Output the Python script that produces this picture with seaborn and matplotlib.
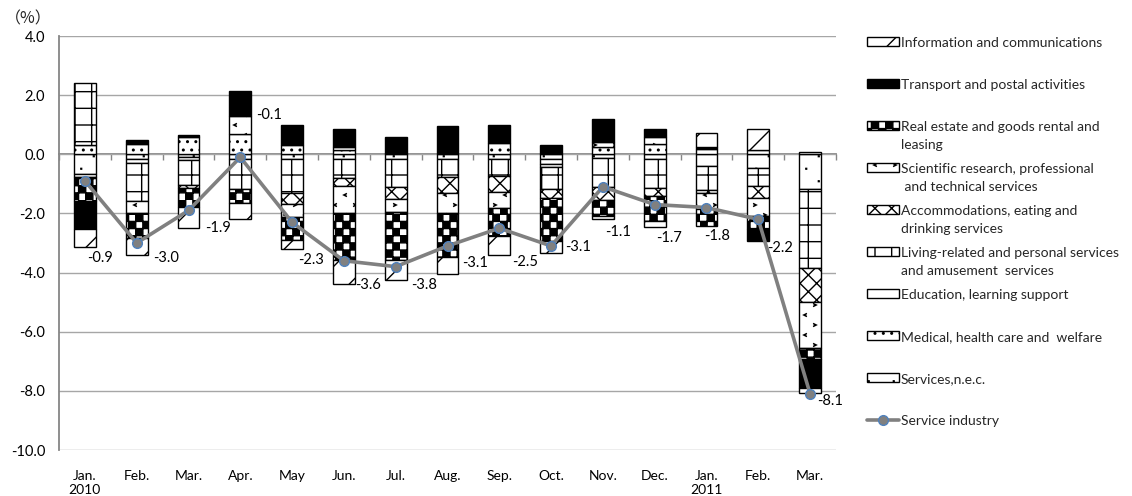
import numpy as np
import pandas as pd
import matplotlib
matplotlib.use("Agg")
import matplotlib.pyplot as plt
import matplotlib.hatch as mhatch
from matplotlib.path import Path
from matplotlib.patches import Patch
from matplotlib.lines import Line2D
import seaborn as sns

# ---------------- data ----------------
months = ["Jan.\n2010", "Feb.", "Mar.", "Apr.", "May", "Jun.", "Jul.", "Aug.",
          "Sep.", "Oct.", "Nov.", "Dec.", "Jan.\n2011", "Feb.", "Mar."]

services_nec   = [-0.65, -0.17, -0.10, -0.17, -0.17, -0.17, -0.17, -0.17, -0.15, -0.15, -0.12, -0.17, -0.40, -0.45, -1.19]
medical        = [0.30, 0.36, 0.57, 0.68, 0.30, 0.15, 0.06, 0.00, 0.38, -0.19, 0.25, 0.35, 0.00, 0.00, 0.09]
education      = [-0.12, -0.14, -0.10, 0.00, 0.00, 0.11, 0.00, 0.00, 0.00, -0.08, 0.00, 0.00, 0.19, 0.15, 0.00]
living         = [2.10, -1.28, -0.85, -1.02, -1.13, -0.62, -0.93, -0.59, -0.60, -0.77, -0.97, -0.97, -0.80, -0.62, -2.66]
accommodations = [0.00, 0.00, -0.10, 0.00, -0.37, -0.28, -0.41, -0.55, -0.52, -0.30, -0.45, -0.28, -0.10, -0.40, -1.13]
scientific     = [0.00, -0.40, 0.00, 0.60, -0.44, -0.90, -0.45, -0.66, -0.54, 0.00, 0.17, 0.22, -0.56, -0.62, -1.58]
real_estate    = [-0.80, -0.85, -0.62, -0.45, -0.80, -1.61, -1.61, -1.50, -0.95, -1.45, -0.55, -0.85, -0.57, -0.45, -0.37]
transport      = [-0.95, 0.11, 0.09, 0.87, 0.68, 0.61, 0.51, 0.97, 0.60, 0.30, 0.78, 0.30, 0.07, -0.40, -0.98]
information    = [-0.62, -0.56, -0.73, -0.54, -0.30, -0.82, -0.68, -0.57, -0.64, -0.40, -0.10, -0.20, 0.45, 0.70, -0.15]
service_industry = [-0.9, -3.0, -1.9, -0.1, -2.3, -3.6, -3.8, -3.1, -2.5, -3.1, -1.1, -1.7, -1.8, -2.2, -8.1]

# ---------------- custom hatch patterns ----------------
class CheckerHatch(mhatch.HatchPatternBase):          # 'O' -> checkerboard
    def __init__(self, hatch, density):
        self.n = 14 if "O" in hatch else 0
        self.num_vertices = (self.n * self.n // 2) * 5

    def set_vertices_and_codes(self, vertices, codes):
        n = self.n
        s = 1.0 / n
        k = 0
        for i in range(n):
            for j in range(n):
                if (i + j) % 2 == 0:
                    x0, y0 = i * s, j * s
                    vertices[k:k + 5] = [(x0, y0), (x0 + s, y0), (x0 + s, y0 + s),
                                         (x0, y0 + s), (x0, y0)]
                    codes[k:k + 5] = [Path.MOVETO, Path.LINETO, Path.LINETO,
                                      Path.LINETO, Path.CLOSEPOLY]
                    k += 5


class SparseDots(mhatch.HatchPatternBase):            # '*' -> sparse tiny dots
    def __init__(self, hatch, density):
        self.n = 8 if "*" in hatch else 0
        self.num_vertices = (self.n * self.n // 2) * 5

    def set_vertices_and_codes(self, vertices, codes):
        n = self.n
        s = 1.0 / n
        a = 0.004
        k = 0
        for i in range(n):
            for j in range(n):
                if (i + j) % 2 == 0:
                    cx, cy = (i + 0.5) * s, (j + 0.5) * s
                    vertices[k:k + 5] = [(cx - a, cy - a), (cx + a, cy - a), (cx + a, cy + a),
                                         (cx - a, cy + a), (cx - a, cy - a)]
                    codes[k:k + 5] = [Path.MOVETO, Path.LINETO, Path.LINETO,
                                      Path.LINETO, Path.CLOSEPOLY]
                    k += 5


class Chevrons(mhatch.HatchPatternBase):              # 'o' -> small scattered marks
    def __init__(self, hatch, density):
        self.n = 10 if "o" in hatch else 0
        self.num_vertices = (self.n * self.n // 2) * 3

    def set_vertices_and_codes(self, vertices, codes):
        n = self.n
        s = 1.0 / n
        a = 0.013
        k = 0
        for i in range(n):
            for j in range(n):
                if (i + j) % 2 == 0:
                    cx, cy = (i + 0.5) * s, (j + 0.5) * s
                    if (i // 2 + j) % 2 == 0:
                        pts = [(cx + a, cy + a), (cx - a, cy), (cx + a, cy - a)]
                    else:
                        pts = [(cx - a, cy + a), (cx + a, cy), (cx - a, cy - a)]
                    vertices[k:k + 3] = pts
                    codes[k:k + 3] = [Path.MOVETO, Path.LINETO, Path.LINETO]
                    k += 3


_replace = {mhatch.LargeCircles: CheckerHatch, mhatch.Stars: SparseDots,
            mhatch.SmallCircles: Chevrons}
mhatch._hatch_types = [_replace.get(t, t) for t in mhatch._hatch_types]

# ---------------- style ----------------
sns.set_theme(style="white")
plt.rcParams["font.family"] = ["Lato", "DejaVu Sans"]
plt.rcParams["hatch.color"] = "black"
plt.rcParams["hatch.linewidth"] = 1.0

W, H = 1132, 496
fig = plt.figure(figsize=(W / 100, H / 100), dpi=100)
ax = fig.add_axes([59 / W, 1 - 450 / H, (836 - 59) / W, (450 - 36) / H])

HATCH = {
    "nec": "*", "medical": "..", "education": "", "living": "+",
    "accommodations": "xx", "scientific": "o", "real_estate": "O",
    "transport": "", "information": "/",
}

# series in stacking order (closest to zero first)
series = [
    (services_nec, "white", HATCH["nec"]),
    (medical, "white", HATCH["medical"]),
    (education, "white", HATCH["education"]),
    (living, "white", HATCH["living"]),
    (accommodations, "white", HATCH["accommodations"]),
    (scientific, "white", HATCH["scientific"]),
    (real_estate, "white", HATCH["real_estate"]),
    (transport, "black", HATCH["transport"]),
    (information, "white", HATCH["information"]),
]

x = np.arange(len(months))
pos_bottom = np.zeros(len(months))
neg_bottom = np.zeros(len(months))
bw = 0.42
for vals, fc, hatch in series:
    v = np.asarray(vals, dtype=float)
    pos = np.where(v > 0, v, 0)
    neg = np.where(v < 0, v, 0)
    mpos = pos > 0
    mneg = neg < 0
    ax.bar(x[mpos], pos[mpos], bw, bottom=pos_bottom[mpos], color=fc,
           edgecolor="black", linewidth=1.0, hatch=hatch, zorder=3)
    ax.bar(x[mneg], neg[mneg], bw, bottom=neg_bottom[mneg], color=fc,
           edgecolor="black", linewidth=1.0, hatch=hatch, zorder=3)
    pos_bottom += pos
    neg_bottom += neg

df = pd.DataFrame({"idx": x, "value": service_industry})
sns.lineplot(data=df, x="idx", y="value", ax=ax, color="#808080", lw=2.6,
             marker="o", markersize=7, markerfacecolor="#808080",
             markeredgecolor="#4f81bd", markeredgewidth=1.0, zorder=5)

# data labels (offsets in pixels from the bottom of each bar: dx to the label's left edge, dy downwards)
label_offsets = [(2, 11), (16, 3), (17, 0), (16, -104), (6, 11), (11, 1), (15, 5),
                 (15, -11), (13, 7), (14, -6), (2, 13), (1, 11), (-2, 10), (9, 7), (7, 8)]
for i, v in enumerate(service_industry):
    dx, dy = label_offsets[i]
    ax.annotate(f"{v:.1f}", (x[i], neg_bottom[i]), xytext=(dx, -dy),
                textcoords="offset pixels", ha="left", va="center",
                fontsize=10.5, color="black", zorder=6)

# axes styling
ax.set_xlim(-0.5, len(months) - 0.5)
ax.set_ylim(-10, 4)
yt = np.arange(-10, 4.1, 2)
ax.set_yticks(yt)
ax.set_yticklabels([f"{t:.1f}" for t in yt])
ax.set_xticks(x)
ax.set_xticklabels(months)
ax.set_xlabel("")
ax.set_ylabel("")
ax.tick_params(axis="x", length=0, pad=14.5, labelsize=10, colors="black")
ax.tick_params(axis="y", length=4, width=1, direction="out", color="#868686",
               pad=6, labelsize=10.5, labelcolor="black")
ax.yaxis.grid(True, color="#a6a6a6", linewidth=1.0, zorder=0)
ax.xaxis.grid(False)
ax.set_axisbelow(True)
for s in ["top", "right", "bottom"]:
    ax.spines[s].set_visible(False)
ax.spines["left"].set_color("#868686")
ax.spines["left"].set_linewidth(1.3)

# category-boundary tick marks on the zero line
sec = ax.secondary_xaxis(10 / 14)
sec.set_alignment("bottom")
sec.set_xticks(np.arange(-0.5, len(months), 1.0))
sec.tick_params(axis="x", length=4, width=1, direction="out", color="#868686",
                labelbottom=False, labeltop=False)
for s in sec.spines.values():
    s.set_color("#868686")
    s.set_linewidth(1.3)

fig.text(5 / W, 1 - 19 / H, "（%）", fontsize=11.5,
         family=["Noto Sans CJK JP", "DejaVu Sans"], va="center", ha="left")

# legend
def hpatch(key, fc="white"):
    return Patch(facecolor=fc, edgecolor="black", hatch=HATCH[key], linewidth=1.0)

legend_items = [
    ("Information and communications", hpatch("information")),
    ("Transport and postal activities", hpatch("transport", "black")),
    ("Real estate and goods rental and", hpatch("real_estate")),
    ("Scientific research, professional", hpatch("scientific")),
    ("Accommodations, eating and", hpatch("accommodations")),
    ("Living-related and personal services", hpatch("living")),
    ("Education, learning support", hpatch("education")),
    ("Medical, health care and  welfare", hpatch("medical")),
    ("Services,n.e.c.", hpatch("nec")),
    ("Service industry", Line2D([], [], color="#808080", lw=2.6, marker="o", markersize=7,
                                markerfacecolor="#808080", markeredgecolor="#4f81bd",
                                markeredgewidth=1.0)),
]
continuations = {
    "Real estate and goods rental and": "leasing",
    "Scientific research, professional": " and technical services",
    "Accommodations, eating and": "drinking services",
    "Living-related and personal services": "and amusement  services",
}
LEG_FS = 10
leg = fig.legend([h for _, h in legend_items], [l for l, _ in legend_items],
                 loc="upper left", bbox_to_anchor=(857 / W, 1 - 27 / H),
                 frameon=False, fontsize=LEG_FS, handlelength=2.3, handleheight=0.6,
                 handletextpad=0.15, labelspacing=2.16, borderpad=0.2)
fig.canvas.draw()
for t in leg.get_texts():
    lab = t.get_text()
    if lab in continuations:
        bb = t.get_window_extent()
        yc = (bb.y0 + bb.y1) / 2 - 18
        fig.text(bb.x0 / W, yc / H, continuations[lab], fontsize=LEG_FS,
                 ha="left", va="center")

fig.savefig("out.png", dpi=100)
